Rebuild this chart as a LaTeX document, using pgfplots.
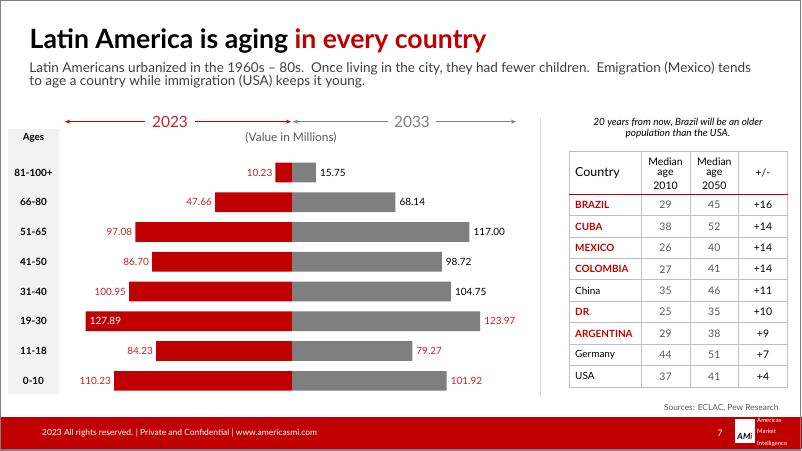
\documentclass[border=0pt]{standalone}
\usepackage{fontspec}
\setmainfont{Lato}
\usepackage{pgfplots}
\pgfplotsset{compat=1.18}
\usetikzlibrary{arrows.meta}
\definecolor{amired}{HTML}{C00000}
\definecolor{lblred}{HTML}{C8202E}
\definecolor{bargray}{HTML}{7F7F7F}
\definecolor{txtgray}{HTML}{595959}
\definecolor{subgray}{HTML}{404040}
\definecolor{gridgray}{HTML}{BFBFBF}
\definecolor{agebg}{HTML}{F2F2F2}
\definecolor{framegray}{HTML}{808080}
\newcommand{\fs}[1]{\fontsize{#1}{#1}\selectfont}
\begin{document}
\begin{tikzpicture}[x=1bp,y=1bp]
\useasboundingbox (0,0) rectangle (802,451);
\fill[white] (0,0) rectangle (802,451);
% footer band
\fill[amired] (0,2) rectangle (802,34);
\node[anchor=west,text=white,inner sep=0] at (42,18) {\fs{8.5}2023 All rights reserved. | Private and Confidential | www.americasmi.com};
\node[text=white,inner sep=0] at (720,18) {\fs{9}7};
\fill[white] (735,8) rectangle (755,32);
\node[inner sep=0] at (745,15) {\fs{8.5}\bfseries\itshape AM\textcolor{amired}{i}};
\node[anchor=west,text=white,inner sep=0,align=left] at (757,19) {\fs{6}Americas\\[-0.5bp]\fs{6}Market\\[-0.5bp]\fs{6}Intelligence};
% frame
\draw[framegray,line width=1.5bp] (0.75,0.75) rectangle (800.5,450.25);
% title
\node[anchor=base west,inner sep=0] at (29.5,402.7) {\fs{26.7}\bfseries Latin America is aging \textcolor{amired}{in every country}};
\node[anchor=base west,inner sep=0,text=subgray] at (29.3,378.7) {\fs{13.6}Latin Americans urbanized in the 1960s -- 80s.\ \ Once living in the city, they had fewer children.\ \ Emigration (Mexico) tends};
\node[anchor=base west,inner sep=0,text=subgray] at (29.3,365) {\fs{13.6}to age a country while immigration (USA) keeps it young.};
% year arrows
\draw[amired,line width=0.9bp,{Stealth[length=5bp,width=4bp]}-] (65,329.3) -- (145,329.3);
\draw[amired,line width=0.9bp,-{Stealth[length=5bp,width=4bp]}] (195,329.3) -- (291,329.3);
\node[text=lblred,inner sep=0] at (170,329.3) {\fs{15.5}2023};
\draw[bargray,line width=0.9bp,{Stealth[length=5bp,width=4bp]}-] (293,329.3) -- (388,329.3);
\draw[bargray,line width=0.9bp,-{Stealth[length=5bp,width=4bp]}] (436,329.3) -- (516,329.3);
\node[text=bargray,inner sep=0] at (412,329.3) {\fs{15.5}2033};
\node[text=txtgray,inner sep=0] at (291,313) {\fs{11.9}(Value in Millions)};
% ages column
\fill[agebg] (8,57) rectangle (59,321.7);
\node[inner sep=0] at (33.5,313) {\fs{9.8}\bfseries Ages};
\foreach \lab [count=\i] in {81-100+,66-80,51-65,41-50,31-40,19-30,11-18,0-10} {
  \node[inner sep=0] at (33.5,{278.5-(\i-1)*29.76}) {\fs{10}\bfseries \lab};
}
% left axis (2023)
\begin{axis}[
  at={(292bp,293.4bp)}, anchor=north east,
  x=1.614bp, y=29.76bp,
  xmin=0, xmax=150, ymin=0.5, ymax=8.5,
  x dir=reverse, y dir=reverse,
  hide axis, clip=false,
  /pgf/number format/.cd, fixed, fixed zerofill, precision=2, assume math mode=true
]
\addplot[xbar, bar shift=0pt, bar width=19.6bp, fill=amired, draw=none]
  coordinates {(10.23,1) (47.66,2) (97.08,3) (86.70,4) (100.95,5) (127.89,6) (84.23,7) (110.23,8)};
\addplot[draw=none, mark=none, nodes near coords, point meta=x,
  nodes near coords style={anchor=east, xshift=-2bp, inner sep=1bp, text=lblred, font=\fs{10}}]
  coordinates {(10.23,1) (47.66,2) (97.08,3) (86.70,4) (100.95,5) (84.23,7) (110.23,8)};
\addplot[draw=none, mark=none, nodes near coords, point meta=x,
  nodes near coords style={anchor=west, xshift=3bp, inner sep=1bp, text=white, font=\fs{10}}]
  coordinates {(127.89,6)};
\end{axis}
% right axis (2033)
\begin{axis}[
  at={(292bp,293.4bp)}, anchor=north west,
  x=1.517bp, y=29.76bp,
  xmin=0, xmax=150, ymin=0.5, ymax=8.5,
  y dir=reverse,
  hide axis, clip=false,
  /pgf/number format/.cd, fixed, fixed zerofill, precision=2, assume math mode=true
]
\addplot[xbar, bar shift=0pt, bar width=19.6bp, fill=bargray, draw=none]
  coordinates {(15.75,1) (68.14,2) (117.00,3) (98.72,4) (104.75,5) (123.97,6) (79.27,7) (101.92,8)};
\addplot[draw=none, mark=none, nodes near coords, point meta=x,
  nodes near coords style={anchor=west, xshift=3bp, inner sep=1bp, text=black, font=\fs{10}}]
  coordinates {(15.75,1) (68.14,2) (117.00,3) (98.72,4) (104.75,5)};
\addplot[draw=none, mark=none, nodes near coords, point meta=x,
  nodes near coords style={anchor=west, xshift=3bp, inner sep=1bp, text=lblred, font=\fs{10}}]
  coordinates {(123.97,6) (79.27,7) (101.92,8)};
\end{axis}
% separator
\draw[gridgray!60,line width=0.6bp] (540,55) -- (540,333);
% note
\node[inner sep=0] at (678,328.3) {\fs{10}\itshape 20 years from now, Brazil will be an older};
\node[inner sep=0] at (678,317) {\fs{10}\itshape population than the USA.};
% table
\draw[gridgray,line width=0.9bp] (569,299.3) rectangle (787.5,64);
\foreach \xx in {641,690,738.7} {\draw[gridgray,line width=0.9bp] (\xx,299.3) -- (\xx,64);}
\foreach \k in {1,...,8} {\draw[gridgray,line width=0.9bp] (569,{256.7-\k*21.41}) -- (787.5,{256.7-\k*21.41});}
\draw[amired,line width=1bp] (569,256.7) -- (787.5,256.7);
\node[anchor=west,inner sep=0] at (575,278) {\fs{12.5}Country};
\foreach \xx/\yr in {665.5/2010,714.3/2050} {
  \node[inner sep=0] at (\xx,289.3) {\fs{10.5}Median};
  \node[inner sep=0] at (\xx,277.2) {\fs{10.5}age};
  \node[inner sep=0] at (\xx,265.3) {\fs{10.5}\yr};
}
\node[inner sep=0] at (763,278) {\fs{10.5}+/-};
\foreach \name/\a/\b/\d/\st [count=\k] in {
  BRAZIL/29/45/+16/1, CUBA/38/52/+14/1, MEXICO/26/40/+14/1, COLOMBIA/27/41/+14/1,
  China/35/46/+11/0, DR/25/35/+10/1, ARGENTINA/29/38/+9/1, Germany/44/51/+7/0, USA/37/41/+4/0} {
  \pgfmathsetmacro{\yy}{256.7-(\k-0.5)*21.41}
  \ifnum\st=1
    \node[anchor=west,inner sep=0,text=amired] at (575,\yy) {\fs{10}\bfseries \name};
  \else
    \node[anchor=west,inner sep=0] at (575,\yy) {\fs{10}\name};
  \fi
  \node[inner sep=0,text=txtgray] at (665.5,\yy) {\fs{10.5}\a};
  \node[inner sep=0,text=txtgray] at (714.3,\yy) {\fs{10.5}\b};
  \node[inner sep=0] at (763,\yy) {\fs{10.5}\d};
}
\node[anchor=east,inner sep=0,text=txtgray] at (778.7,43.3) {\fs{8.4}Sources: ECLAC, Pew Research};
\end{tikzpicture}
\end{document}
